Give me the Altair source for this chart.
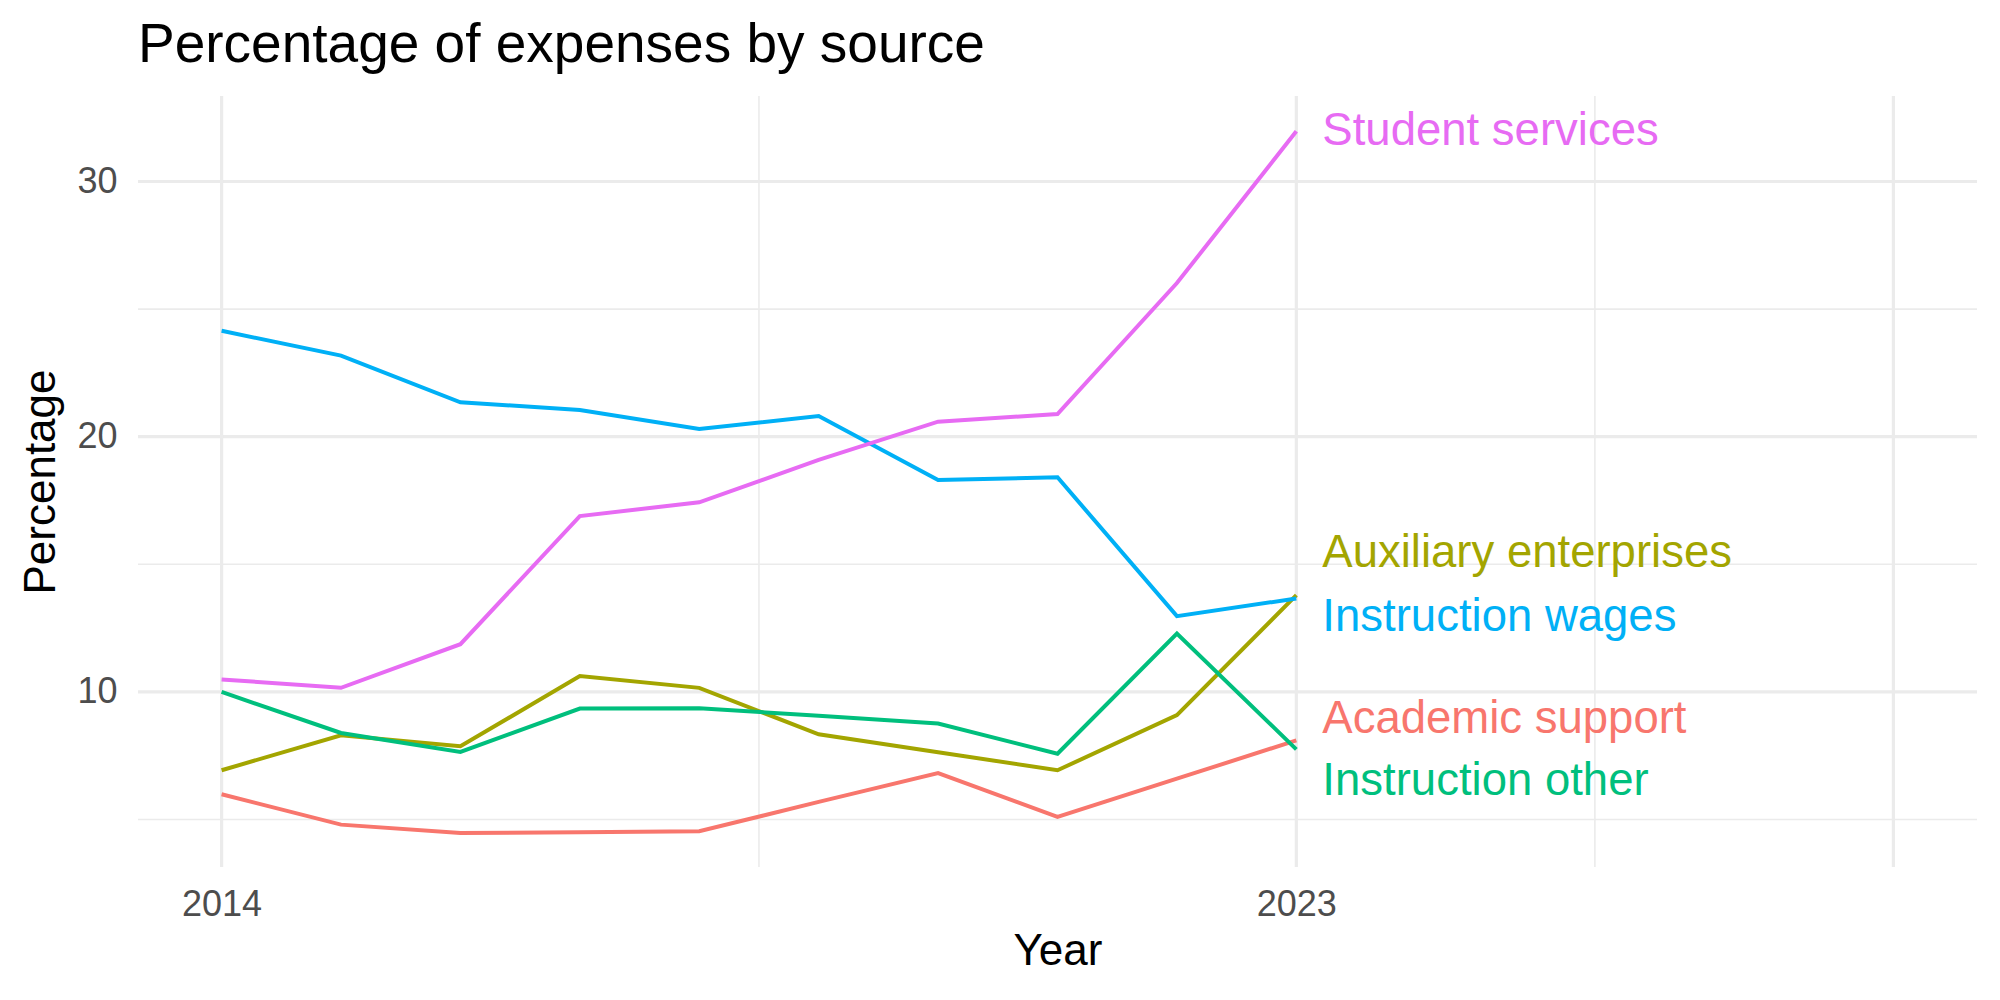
import altair as alt
import pandas as pd

# ---- data ----
years = [2014, 2015, 2016, 2017, 2018, 2019, 2020, 2021, 2022, 2023]
academic_support = [5.99, 4.80, 4.47, 4.50, 4.54, 5.69, 6.82, 5.10, 6.60, 8.10]
auxiliary_enterprises = [6.93, 8.30, 7.87, 10.62, 10.16, 8.34, 7.64, 6.93, 9.09, 13.79]
instruction_other = [10.00, 8.39, 7.65, 9.35, 9.36, 9.07, 8.76, 7.58, 12.29, 7.75]
instruction_wages = [24.15, 23.18, 21.35, 21.05, 20.30, 20.81, 18.30, 18.41, 12.97, 13.66]
student_services = [10.49, 10.16, 11.87, 16.89, 17.43, 19.09, 20.59, 20.89, 26.02, 31.97]

series_names = ["Academic support", "Auxiliary enterprises", "Instruction other",
                "Instruction wages", "Student services"]
series_values = [academic_support, auxiliary_enterprises, instruction_other,
                 instruction_wages, student_services]
series_colors = ["#F8766D", "#A3A500", "#00BF7D", "#00B0F6", "#E76BF3"]

# label positions (repelled) at the last year
label_year = 2023
label_y = [8.95, 15.45, 6.5, 12.95, 31.97]

# axis breaks / gridlines
x_major = [2014, 2023, 2028]
x_minor = [2018.5, 2025.5]
x_labels = [2014, 2023]
y_major = [10, 20, 30]
y_minor = [5, 15, 25]
x_domain = [2013.3, 2028.7]
y_domain = [3.14, 33.35]

FONT = "Liberation Sans"
GRID = "#EBEBEB"

rows = []
for name, vals in zip(series_names, series_values):
    for yr, v in zip(years, vals):
        rows.append({"Year": yr, "Percentage": v, "Source": name})
df = pd.DataFrame(rows)

labels_df = pd.DataFrame({"Year": [label_year] * len(series_names),
                          "Percentage": label_y, "Source": series_names})

xscale = alt.Scale(domain=x_domain, nice=False, zero=False)
yscale = alt.Scale(domain=y_domain, nice=False, zero=False)
color = alt.Color("Source:N", scale=alt.Scale(domain=series_names, range=series_colors), legend=None)

xaxis = alt.Axis(values=x_labels, format="d", grid=False, domain=False, ticks=False, tickSize=0,
                 labelFont=FONT, labelFontSize=36, labelColor="#4D4D4D", labelPadding=20,
                 titleFont=FONT, titleFontSize=44, titleFontWeight="normal", titleColor="black",
                 titlePadding=7, title="Year")
yaxis = alt.Axis(values=y_major, grid=False, domain=False, ticks=False, tickSize=0,
                 labelFont=FONT, labelFontSize=36, labelColor="#4D4D4D", labelPadding=21,
                 titleFont=FONT, titleFontSize=44, titleFontWeight="normal", titleColor="black",
                 titlePadding=13, title="Percentage")

X = alt.X("Year:Q", scale=xscale, axis=xaxis)
Y = alt.Y("Percentage:Q", scale=yscale, axis=yaxis)

ymin_df = pd.DataFrame({"Percentage": y_minor})
ymaj_df = pd.DataFrame({"Percentage": y_major})
xmin_df = pd.DataFrame({"Year": x_minor})
xmaj_df = pd.DataFrame({"Year": x_major})

g1 = alt.Chart(ymin_df).mark_rule(color=GRID, strokeWidth=1.6).encode(y=Y)
g2 = alt.Chart(xmin_df).mark_rule(color=GRID, strokeWidth=1.6).encode(x=X)
g3 = alt.Chart(ymaj_df).mark_rule(color=GRID, strokeWidth=3.2).encode(y=Y)
g4 = alt.Chart(xmaj_df).mark_rule(color=GRID, strokeWidth=3.2).encode(x=X)

lines = alt.Chart(df).mark_line(strokeWidth=4).encode(
    x=X, y=Y, color=color, detail="Source:N", order="Year:Q")

texts = alt.Chart(labels_df).mark_text(
    align="left", baseline="middle", dx=26, font=FONT, fontSize=45.5
).encode(x=X, y=Y, color=color, text="Source:N")

chart = alt.layer(g1, g2, g3, g4, lines, texts).properties(
    width=1839, height=771,
    autosize=alt.AutoSizeParams(type="none"),
    padding={"left": 138, "top": 96, "right": 23, "bottom": 133},
    background="white",
    title=alt.TitleParams("Percentage of expenses by source", anchor="start", frame="group",
                          font=FONT, fontSize=55, fontWeight="normal", color="black", offset=20),
).configure_view(stroke=None)

chart.save("out.html", embed_options={"renderer": "svg", "actions": False})
